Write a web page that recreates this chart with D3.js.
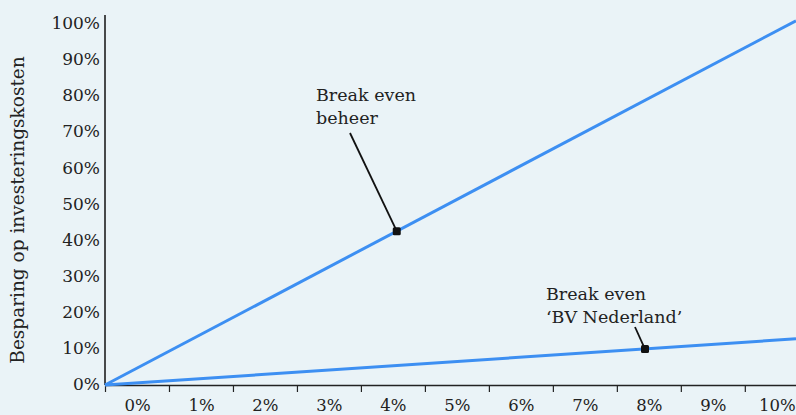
<!DOCTYPE html>
<html>
<head>
<meta charset="utf-8">
<script src="https://cdn.jsdelivr.net/npm/d3@7"></script>
<style>
  body { margin: 0; background: #eaf3f7; }
  svg { display: block; font-family: "DejaVu Serif", serif; }
</style>
</head>
<body>
<div id="chart"></div>
<script>
// data: x = percentage, y = besparing op investeringskosten (%)
var xTicks = [0, 1, 2, 3, 4, 5, 6, 7, 8, 9, 10];
var yTicks = [0, 10, 20, 30, 40, 50, 60, 70, 80, 90, 100];
var beheerX = [0, 10.8];
var beheerY = [0, 100.9];
var bvX = [0, 10.8];
var bvY = [0, 12.8];
var breakEvenNames = ["beheer", "bv"];
var breakEvenX = [4.56, 8.44];
var breakEvenY = [42.6, 9.97];

var WIDTH = 796, HEIGHT = 415;
var MARGINS = { top: 15, right: 0, bottom: 30, left: 105 };

var svg = d3.select("#chart")
    .append("svg")
    .attr("width", WIDTH)
    .attr("height", HEIGHT);

svg.append("rect")
    .attr("width", WIDTH)
    .attr("height", HEIGHT)
    .attr("fill", "#eaf3f7");

var xScale = d3.scaleLinear().domain([0, 10.8]).range([MARGINS.left, WIDTH - MARGINS.right]),
    yScale = d3.scaleLinear().domain([0, 100]).range([385, 24]);

// x axis
var xAxis = d3.axisBottom(xScale)
    .tickValues(xTicks)
    .tickSize(7)
    .tickSizeOuter(0)
    .tickFormat(function(d) { return d + "%"; });

var gx = svg.append("g")
    .attr("transform", "translate(0,385)")
    .call(xAxis);
gx.select(".domain").attr("stroke", "#222").attr("stroke-width", 1.5);
gx.selectAll(".tick line").attr("stroke", "#222").attr("stroke-width", 1.2);
gx.selectAll(".tick text")
    .attr("x", 32)
    .attr("y", 14)
    .attr("fill", "#222")
    .style("font-family", "DejaVu Serif, serif")
    .style("font-size", "16.5px");

// y axis (no ticks)
svg.append("line")
    .attr("x1", MARGINS.left)
    .attr("x2", MARGINS.left)
    .attr("y1", MARGINS.top)
    .attr("y2", 385)
    .attr("stroke", "#111")
    .attr("stroke-width", 1.5);

svg.selectAll(".ylab")
    .data(yTicks)
    .enter().append("text")
    .attr("class", "ylab")
    .attr("x", 100)
    .attr("y", function(d) { return yScale(d); })
    .attr("dy", "0.3em")
    .style("text-anchor", "end")
    .style("font-size", "17px")
    .attr("fill", "#222")
    .text(function(d) { return d + "%"; });

// y axis label
svg.append("text")
    .attr("transform", "translate(24,210) rotate(-90)")
    .style("text-anchor", "middle")
    .style("font-size", "18.5px")
    .attr("fill", "#222")
    .text("Besparing op investeringskosten");

// lines
var lineGen = d3.line()
    .x(function(d) { return xScale(d[0]); })
    .y(function(d) { return yScale(d[1]); });

svg.append("path")
    .attr("d", lineGen(d3.zip(beheerX, beheerY)))
    .attr("stroke", "#3d8ff2")
    .attr("stroke-width", 3)
    .attr("fill", "none");

svg.append("path")
    .attr("d", lineGen(d3.zip(bvX, bvY)))
    .attr("stroke", "#3d8ff2")
    .attr("stroke-width", 3)
    .attr("fill", "none");

// annotations
var notes = {
    beheer: { lines: ["Break even", "beheer"], tx: 316, ty: 101, lx: 350, ly: 133 },
    bv: { lines: ["Break even", "\u2018BV Nederland\u2019"], tx: 546, ty: 300, lx: 635, ly: 327 }
};

for (var i = 0; i < breakEvenNames.length; i++) {
    var n = notes[breakEvenNames[i]];
    var px = xScale(breakEvenX[i]), py = yScale(breakEvenY[i]);

    svg.append("line")
        .attr("x1", n.lx)
        .attr("y1", n.ly)
        .attr("x2", px)
        .attr("y2", py)
        .attr("stroke", "#111")
        .attr("stroke-width", 1.8);

    svg.append("rect")
        .attr("x", px - 4)
        .attr("y", py - 4)
        .attr("width", 8)
        .attr("height", 8)
        .attr("rx", 1.5)
        .attr("fill", "#111");

    var t = svg.append("text")
        .attr("x", n.tx)
        .attr("y", n.ty)
        .style("font-size", "17.5px")
        .attr("fill", "#222");
    n.lines.forEach(function(s, j) {
        t.append("tspan")
            .attr("x", n.tx)
            .attr("dy", j == 0 ? 0 : 23)
            .text(s);
    });
}
</script>
</body>
</html>
